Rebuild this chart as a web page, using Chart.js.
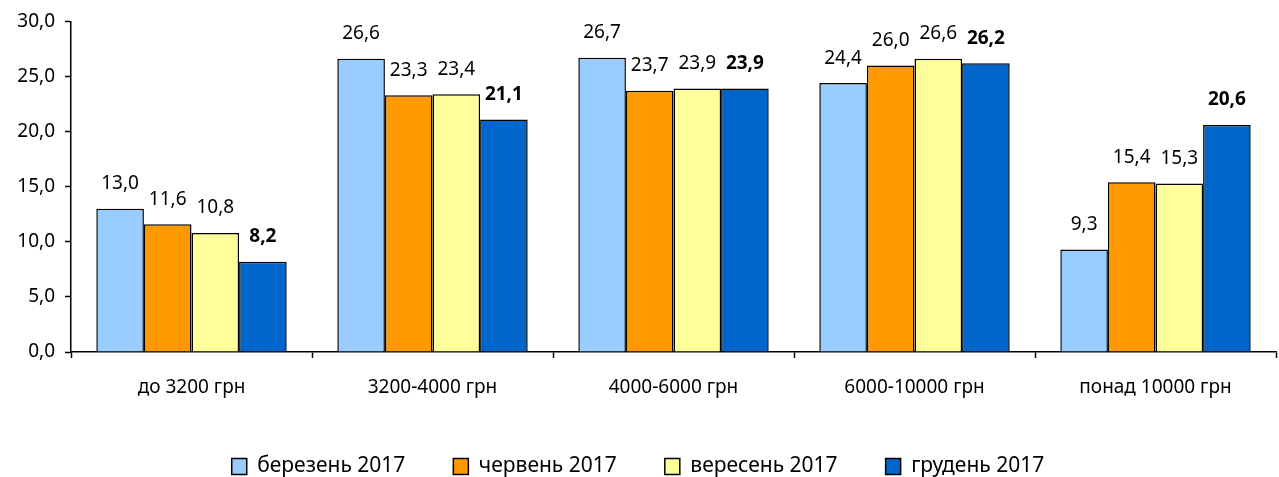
<!DOCTYPE html>
<html>
<head>
<meta charset="utf-8">
<script src="https://cdn.jsdelivr.net/npm/chart.js@4"></script>
<style>
	html, body { margin: 0; padding: 0; background: #fff; }
	#wrap { width: 1279px; height: 477px; }
</style>
</head>
<body>
<div id="wrap"><canvas id="myChart"></canvas></div>
<script>
// Категорії по осі X
const labels = ['до 3200 грн', '3200-4000 грн', '4000-6000 грн', '6000-10000 грн', 'понад 10000 грн'];

// Значення по періодах, %
const march2017 = [13.0, 26.6, 26.7, 24.4, 9.3];
const june2017 = [11.6, 23.3, 23.7, 26.0, 15.4];
const september2017 = [10.8, 23.4, 23.9, 26.6, 15.3];
const december2017 = [8.2, 21.1, 23.9, 26.2, 20.6];

const seriesNames = ['березень 2017', 'червень 2017', 'вересень 2017', 'грудень 2017'];
const yTicks = [0, 5, 10, 15, 20, 25, 30];

const fontFamily = '"Noto Sans", "DejaVu Sans", sans-serif';
const fmt = v => v.toFixed(1).replace('.', ',');

// Підписи над стовпчиками
const valueLabels = {
	id: 'valueLabels',
	afterDatasetsDraw(chart) {
		const ctx = chart.ctx;
		ctx.save();
		ctx.textAlign = 'center';
		ctx.textBaseline = 'middle';
		ctx.fillStyle = '#000';
		chart.data.datasets.forEach((ds, i) => {
			const meta = chart.getDatasetMeta(i);
			ctx.font = (i === 3 ? 'bold ' : '') + '19px ' + fontFamily;
			meta.data.forEach((bar, j) => {
				ctx.fillText(fmt(ds.data[j]), bar.x, bar.y - 25);
			});
		});
		ctx.restore();
	}
};

const data = {
	labels: labels,
	datasets: [
		{ label: seriesNames[0], data: march2017, backgroundColor: '#99CCFF' },
		{ label: seriesNames[1], data: june2017, backgroundColor: '#FF9900' },
		{ label: seriesNames[2], data: september2017, backgroundColor: '#FFFF99' },
		{ label: seriesNames[3], data: december2017, backgroundColor: '#0066CC' }
	].map(ds => Object.assign(ds, { borderColor: '#000', borderWidth: 1.5, categoryPercentage: 0.79, barPercentage: 1 }))
};

const config = {
	type: 'bar',
	data: data,
	plugins: [valueLabels],
	options: {
		responsive: true,
		maintainAspectRatio: false,
		animation: false,
		layout: {
			padding: { top: 12, right: 3, left: 0, bottom: -10 }
		},
		plugins: {
			legend: {
				position: 'bottom',
				labels: {
					color: '#000',
					font: { family: fontFamily, size: 21 },
					boxWidth: 15,
					boxHeight: 16,
					padding: 48
				}
			},
			tooltip: { enabled: false }
		},
		scales: {
			y: {
				min: 0,
				max: 30,
				afterBuildTicks: scale => { scale.ticks = yTicks.map(v => ({ value: v })); },
				afterFit: scale => { scale.width = 71; },
				border: { color: '#000', width: 1.5 },
				grid: {
					drawOnChartArea: false,
					color: '#000',
					tickLength: 6,
					tickWidth: 1.5
				},
				ticks: {
					color: '#000',
					padding: 10,
					font: { family: fontFamily, size: 19 },
					callback: v => fmt(v)
				}
			},
			x: {
				afterFit: scale => { scale.height = 56; },
				border: { color: '#000', width: 1.5 },
				grid: {
					drawOnChartArea: false,
					color: '#000',
					tickLength: 6,
					tickWidth: 1.5
				},
				ticks: {
					color: '#000',
					padding: 18,
					font: { family: fontFamily, size: 19 }
				}
			}
		}
	}
};

const chart = new Chart(document.getElementById('myChart'), config);
</script>
</body>
</html>
